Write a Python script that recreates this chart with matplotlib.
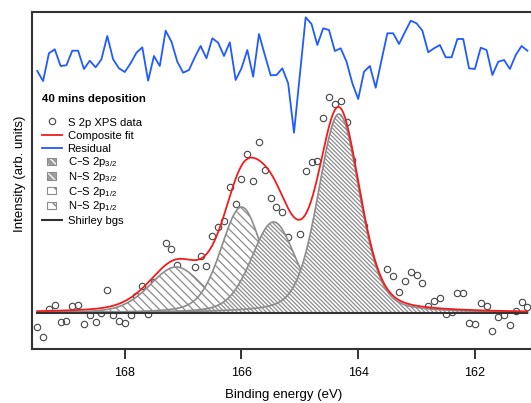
import numpy as np
import matplotlib
matplotlib.use('Agg')
import matplotlib.pyplot as plt
from matplotlib.patches import Rectangle

plt.rcParams['font.family'] = ['Liberation Sans', 'DejaVu Sans']
plt.rcParams['mathtext.default'] = 'regular'
plt.rcParams['hatch.linewidth'] = 0.9

# binding energy of each measured point, 169.5 -> 161.1 eV in 0.1 eV steps
energy = np.round(np.arange(169.5, 161.05, -0.1), 1)

# S 2p data (arb. units, Shirley background removed)
s2p_data = [-14.3, -24.3, 4, 7.7, -8.7, -7.7, 7.3, 7.7, -11.3, -2,
            -9, -0.3, 22.7, -2, -8.3, -10, -2, 16.7, 26.7, -1.3,
            31.3, 24, 69.7, 64, 48.5, 35, 34, 45.7, 57.3, 47.5,
            77, 86.5, 92, 126.5, 108.7, 133.7, 159.3, 132.3, 171, 143,
            114.7, 105.7, 101.3, 76.5, 32, 79, 142, 150.7, 152, 195.3,
            216, 209, 212.5, 191, 153, 115, 87, 57, 14, 23,
            44, 37.3, 21.3, 32.3, 41.5, 38, 30.3, 7, 12, 15,
            -1, 1, 19.7, 19.7, -9.7, -11.3, 10.3, 7.3, -17.7, -4.3,
            -2.3, -12, 2.3, 11.3, 5.7]

# residual (data - fit), drawn shifted to the top of the panel
residual = [-18, -28, -0.3, 3.7, -13, -12.3, 2.3, 2.3, -16, -7.7,
            -14.3, -6.3, 17, -6.3, -15.3, -19, -10.3, 0.3, 5.7, -27.7,
            -3, -13, 22.3, 11.3, -8.7, -19.7, -17, -4.3, 7, -5.3,
            14.7, 10.3, -3, 10.7, -27, -15.3, 3, -23.7, 19, -2,
            -22.3, -22, -15.3, -30.3, -79.7, -22, 35.7, 29, 8, 24.7,
            23, 2, 4.7, -8.7, -30.3, -46, -18.7, -13, -34.7, -7,
            19.7, 19.7, 9, 20.7, 32.3, 29.7, 22.3, 0.7, 4.7, 8,
            -4.3, -4.3, 14, 14, -15.3, -16, 5.3, 3, -22, -8.7,
            -7, -16, -2, 7, 2.3]
residual_offset = 260

# fitted components (drawn in this order, later ones on top)
peak_centre = [167.12, 166.0, 165.45, 164.33]
peak_height = [46, 106, 91, 199]
peak_fwhm = [1.08, 0.84, 0.9, 0.84]
peak_hatch = ['\\' * 4, '\\' * 4, '\\' * 8, '\\' * 8]
lorentz_frac = 0.3

shirley_level = 0.0

labels = ['S 2p XPS data', 'Composite fit', 'Residual',
          'C–S 2p$_{3/2}$', 'N–S 2p$_{3/2}$', 'C–S 2p$_{1/2}$', 'N–S 2p$_{1/2}$',
          'Shirley bgs']

DATA_C = '#444444'
FIT_C = '#f21c1c'
RES_C = '#1f5bff'
COMP_C = '#8c8c8c'
BG_C = '#333333'


def pseudo_voigt(x, centre, height, fwhm, eta):
    u = (x - centre) / fwhm
    gauss = np.exp(-4 * np.log(2) * u ** 2)
    lorentz = 1 / (1 + 4 * u ** 2)
    return height * ((1 - eta) * gauss + eta * lorentz)


fine = np.linspace(169.5, 161.1, 800)
background = np.full_like(fine, shirley_level)
components = [pseudo_voigt(fine, c, h, w, lorentz_frac)
              for c, h, w in zip(peak_centre, peak_height, peak_fwhm)]
composite = background + np.sum(components, axis=0)

fig = plt.figure(figsize=(5.31, 4.03), dpi=100)
ax = fig.add_axes([32 / 531, 1 - 349 / 403, 503 / 531, 337 / 403])

ax.plot(energy, s2p_data, ls='none', marker='o', ms=4.6, mfc='none',
        mec=DATA_C, mew=0.8, zorder=1)

for k, comp in enumerate(components):
    ax.fill_between(fine, background, background + comp, facecolor='white',
                    edgecolor=COMP_C, hatch=peak_hatch[k], lw=1.2, zorder=2 + k)

ax.plot(fine, background, color=BG_C, lw=1.5, zorder=8)
ax.plot(fine, composite, color=FIT_C, lw=1.3, zorder=9)
ax.plot(energy, residual_offset + np.array(residual), color=RES_C, lw=1.3, zorder=9)

ax.set_xlim(169.59, 160.97)
ax.set_ylim(-36, 301)
ax.set_xticks([168, 166, 164, 162])
ax.set_yticks([])
ax.tick_params(axis='x', direction='out', length=7, width=1.4, color='#333333',
               labelsize=9, pad=6)
for side in ['left', 'top', 'bottom']:
    ax.spines[side].set_linewidth(1.5)
    ax.spines[side].set_color('#333333')
ax.spines['right'].set_visible(False)

ax.set_xlabel('Binding energy (eV)', fontsize=9.5, labelpad=7)
ax.set_ylabel('Intensity (arb. units)', fontsize=9.5)
ax.yaxis.set_label_coords(-0.012, 0.52)

# legend, laid out by hand so the rows are evenly spaced
tr = ax.transAxes
fx = lambda px: (px - 32) / 503
fy = lambda py: (349 - py) / 337

ax.text(fx(42), fy(99), '40 mins deposition', transform=tr, fontsize=8.2,
        fontweight='bold', va='center', ha='left', zorder=10)
row_y = [121.5, 134.7, 147.9, 161.4, 176, 190.6, 205.2, 219.6]
for k, (lab, y) in enumerate(zip(labels, row_y)):
    ax.text(fx(67.5), fy(y + 4), lab, transform=tr, fontsize=8.1,
            va='baseline', ha='left', zorder=10)
    if k == 0:
        ax.plot([fx(51.7)], [fy(y)], transform=tr, ls='none', marker='o', ms=4.6,
                mfc='none', mec=DATA_C, mew=0.8, clip_on=False, zorder=10)
    elif k in (1, 2, 7):
        col = {1: FIT_C, 2: RES_C, 7: BG_C}[k]
        ax.plot([fx(41.5), fx(61.5)], [fy(y), fy(y)], transform=tr, color=col,
                lw=1.5 if k == 7 else 1.3, clip_on=False, zorder=10)
    else:
        box = (fx(47), fy(y + 3.5))
        w, h = 9 / 503, 7 / 337
        if k in (3, 4):
            # 3/2 components: grey swatch with light diagonals
            ax.add_patch(Rectangle(box, w, h, transform=tr, facecolor='#9c9c9c',
                                   edgecolor='white', lw=0, hatch='\\' * 4, zorder=10))
        else:
            ax.add_patch(Rectangle(box, w, h, transform=tr, facecolor='white',
                                   edgecolor='#777777', lw=0, hatch='\\' * 2, zorder=10))
        ax.add_patch(Rectangle(box, w, h, transform=tr, facecolor='none',
                               edgecolor=COMP_C, lw=0.8, zorder=11))

fig.savefig('out.png', dpi=100)
